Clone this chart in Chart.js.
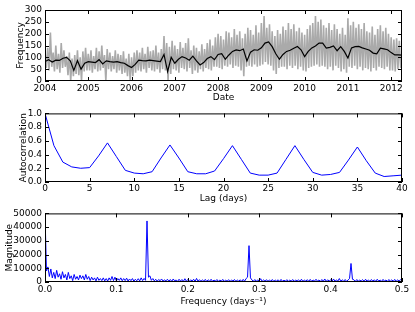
<!DOCTYPE html>
<html>
<head>
<meta charset="utf-8">
<script src="https://cdn.jsdelivr.net/npm/chart.js@4"></script>
<style>
  body { margin: 0; background: #fff; }
  #wrap { position: relative; width: 415px; height: 312px; }
  canvas { position: absolute; left: 0; }
</style>
</head>
<body>
<div id="wrap">
  <canvas id="counts" width="415" height="105" style="top:0"></canvas>
  <canvas id="acf" width="415" height="100" style="top:105px"></canvas>
  <canvas id="fft" width="415" height="107" style="top:205px"></canvas>
</div>
<script>
// daily counts (about every 11 days, one row per quarter)
const rawStart = 2004;
const rawPerYear = 32;
const rawCounts = [
  125, 55, 140, 45, 205, 60, 120, 40,
  150, 50, 115, 35, 160, 55, 130, 60,
  105, 25, 120, 0, 95, 20, 110, 30,
  130, 25, 100, 0, 125, 40, 140, 45,
  115, 45, 130, 35, 105, 50, 140, 40,
  125, 45, 150, 55, 110, 0, 135, 50,
  120, 40, 105, 50, 130, 35, 115, 45,
  110, 30, 125, 35, 95, 20, 115, 0,
  100, 20, 120, 35, 130, 45, 120, 40,
  140, 50, 115, 35, 145, 55, 125, 45,
  130, 40, 150, 50, 120, 35, 135, 50,
  190, 45, 160, 0, 145, 30, 170, 50,
  150, 45, 135, 35, 165, 55, 140, 50,
  160, 40, 180, 55, 130, 30, 150, 45,
  140, 35, 125, 50, 155, 40, 135, 55,
  160, 50, 175, 45, 150, 60, 185, 60,
  200, 55, 190, 50, 175, 65, 210, 60,
  205, 70, 185, 55, 220, 65, 195, 60,
  210, 45, 180, 20, 200, 60, 225, 65,
  215, 60, 195, 70, 235, 60, 205, 65,
  245, 70, 275, 80, 225, 70, 240, 65,
  210, 45, 190, 30, 215, 55, 200, 60,
  230, 60, 215, 50, 245, 65, 220, 55,
  240, 65, 210, 50, 225, 60, 205, 45,
  195, 40, 220, 55, 235, 60, 245, 65,
  275, 70, 250, 60, 260, 65, 235, 60,
  225, 50, 245, 60, 215, 45, 240, 65,
  220, 55, 200, 40, 225, 50, 195, 35,
  265, 60, 235, 55, 250, 65, 225, 50,
  240, 60, 220, 45, 245, 55, 210, 50,
  205, 40, 230, 55, 195, 45, 220, 60,
  235, 55, 210, 50, 225, 60, 200, 45,
  185, 45, 175, 40, 180, 50, 170, 55
];

// smoothed counts, one value per month
const smoothCounts = [
  82, 90, 80, 88, 87, 96, 100, 85, 45, 86, 50, 75,
  82, 80, 78, 90, 72, 85, 82, 80, 82, 78, 75, 65,
  57, 70, 88, 86, 85, 88, 86, 84, 82, 112, 40, 100,
  75, 92, 103, 97, 88, 105, 85, 68, 78, 95, 103, 90,
  112, 115, 92, 110, 125, 131, 128, 135, 85, 122, 132, 130,
  140, 160, 165, 145, 115, 92, 112, 125, 130, 138, 146, 132,
  103, 125, 140, 148, 160, 160, 139, 142, 148, 128, 145, 125,
  97, 140, 145, 146, 140, 135, 130, 118, 115, 139, 136, 132,
  120, 110, 110, 109
];

const lags = [
  0, 1, 2, 3, 4, 5, 6, 7, 8, 9, 10, 11, 12, 13, 14, 15, 16, 17, 18, 19, 20,
  21, 22, 23, 24, 25, 26, 27, 28, 29, 30, 31, 32, 33, 34, 35, 36, 37, 38, 39, 40
];
const autocorr = [
  1.0, 0.53, 0.29, 0.22, 0.20, 0.21, 0.38, 0.57, 0.37, 0.17, 0.13, 0.12, 0.15, 0.35,
  0.54, 0.35, 0.15, 0.12, 0.12, 0.16, 0.34, 0.53, 0.33, 0.13, 0.10, 0.10, 0.13,
  0.33, 0.53, 0.33, 0.14, 0.10, 0.11, 0.14, 0.32, 0.51, 0.31, 0.13, 0.08, 0.09, 0.10
];

// spectrum magnitude, frequency step 1/490 per day
const freqStep = 1 / 490;
const magnitude = [
  50000, 8000, 11000, 4000, 9500, 3000, 7000, 2500, 8500, 3500, 6000, 2000, 7500, 3000,
  5500, 1500, 7000, 2500, 4500, 1000, 5500, 2000, 4000, 1500, 5000, 2500, 4500, 1500,
  5500, 2000, 4000, 1000, 3500, 1500, 3000, 800, 3500, 1200, 2500, 1000, 3000, 800,
  2500, 700, 3000, 1200, 4000, 1000, 3500, 800, 2500, 1200, 3000, 900, 2500, 1000,
  2800, 700, 2200, 1000, 2500, 600, 2000, 900, 2400, 800, 3000, 1000, 2600, 1200,
  44500, 3500, 4500, 1200, 2500, 800, 2000, 600, 1800, 900, 2200, 700, 1500, 800,
  2000, 600, 1800, 500, 2200, 800, 1500, 400, 2000, 700, 1800, 500, 2400, 600,
  1800, 500, 1600, 700, 2000, 400, 2600, 600, 1700, 500, 1500, 700, 1900, 400,
  1600, 600, 2000, 500, 1400, 700, 1800, 400, 1500, 600, 1900, 500, 1300, 600,
  1700, 400, 1500, 700, 1800, 500, 1400, 600, 1600, 400, 1900, 600, 2500, 3500,
  26500, 3000, 1500, 600, 1800, 500, 1600, 700, 2400, 500, 1500, 600, 1700, 400,
  1500, 600, 1800, 500, 1400, 700, 1600, 400, 1900, 500, 1300, 600, 1700, 500,
  1400, 600, 1800, 400, 1500, 700, 1600, 500, 2000, 400, 1500, 600, 1700, 500,
  1900, 500, 1400, 700, 2000, 600, 1500, 400, 1800, 600, 2200, 500, 1600, 700,
  1500, 500, 2200, 600, 1400, 700, 2500, 500, 1600, 600, 1800, 400, 1500, 2500,
  13500, 2000, 1600, 500, 1800, 600, 1400, 700, 1700, 500, 2000, 600, 1500, 400,
  1800, 600, 1600, 500, 2000, 700, 1400, 500, 1900, 600, 1500, 400, 1800, 600,
  1600, 500, 1900, 600, 1500, 700, 1700, 600
];

const font = { family: "DejaVu Sans", size: 9 };

// matplotlib-like frame with inward ticks on all four sides
const frameTicks = {
  id: "frameTicks",
  afterDatasetsDraw(chart) {
    const { ctx, chartArea: a, scales } = chart;
    ctx.save();
    ctx.strokeStyle = "#000";
    ctx.lineWidth = 1;
    ctx.beginPath();
    scales.x.ticks.forEach((t) => {
      const px = Math.round(scales.x.getPixelForValue(t.value)) + 0.5;
      ctx.moveTo(px, a.bottom); ctx.lineTo(px, a.bottom - 4);
      ctx.moveTo(px, a.top); ctx.lineTo(px, a.top + 4);
    });
    scales.y.ticks.forEach((t) => {
      const py = Math.round(scales.y.getPixelForValue(t.value)) + 0.5;
      ctx.moveTo(a.left, py); ctx.lineTo(a.left + 4, py);
      ctx.moveTo(a.right, py); ctx.lineTo(a.right - 4, py);
    });
    ctx.stroke();
    ctx.strokeRect(a.left + 0.5, a.top + 0.5, a.right - a.left - 1, a.bottom - a.top - 1);
    ctx.restore();
  },
};

function makeOptions(o) {
  return {
    responsive: false,
    animation: false,
    events: [],
    layout: { padding: { top: o.top, right: 13, bottom: 0, left: 0 } },
    plugins: { legend: { display: false }, tooltip: { enabled: false } },
    elements: { point: { radius: 0 } },
    scales: {
      x: {
        type: "linear",
        min: o.xmin,
        max: o.xmax,
        grid: { display: false, drawTicks: false },
        border: { display: false },
        ticks: {
          stepSize: o.xstep,
          includeBounds: false,
          autoSkip: false,
          maxRotation: 0,
          padding: o.xpad,
          color: "#000",
          font: font,
          callback: o.xfmt,
        },
        title: { display: true, text: o.xtitle, color: "#000", font: font, padding: { top: 0, bottom: o.xtitlePad } },
        afterFit: (s) => { s.height = o.xh; },
      },
      y: {
        min: o.ymin,
        max: o.ymax,
        grid: { display: false, drawTicks: false },
        border: { display: false },
        ticks: { stepSize: o.ystep, autoSkip: false, padding: 3, color: "#000", font: font, callback: o.yfmt },
        title: { display: true, text: o.ytitle, color: "#000", font: font, padding: { top: o.ytitlePad, bottom: 0 } },
        afterFit: (s) => { s.width = 45; },
      },
    },
  };
}

new Chart(document.getElementById("counts"), {
  type: "line",
  data: {
    datasets: [
      {
        data: smoothCounts.map((v, i) => ({ x: rawStart + i / 12, y: v })),
        borderColor: "#000",
        borderWidth: 1.2,
      },
      {
        data: rawCounts.map((v, i) => ({ x: rawStart + i / rawPerYear, y: v })),
        borderColor: "#aaaaaa",
        borderWidth: 1.6,
        borderJoinStyle: "bevel",
      },
    ],
  },
  options: makeOptions({
    top: 10, xh: 24, xpad: 2, xtitlePad: 2, ytitlePad: 15,
    xmin: 2004, xmax: 2012.25, xstep: 1, xtitle: "Date",
    xfmt: (v) => String(v),
    ymin: 0, ymax: 300, ystep: 50, ytitle: "Frequency",
    yfmt: (v) => String(v),
  }),
  plugins: [frameTicks],
});

new Chart(document.getElementById("acf"), {
  type: "line",
  data: {
    datasets: [
      {
        data: autocorr.map((v, i) => ({ x: lags[i], y: v })),
        borderColor: "#0000ff",
        borderWidth: 1,
      },
    ],
  },
  options: makeOptions({
    top: 6, xh: 23, xpad: 1, xtitlePad: 1, ytitlePad: 18,
    xmin: 0, xmax: 40, xstep: 5, xtitle: "Lag (days)",
    xfmt: (v) => String(v),
    ymin: 0, ymax: 1, ystep: 0.2, ytitle: "Autocorrelation",
    yfmt: (v) => v.toFixed(1),
  }),
  plugins: [frameTicks],
});

new Chart(document.getElementById("fft"), {
  type: "line",
  data: {
    datasets: [
      {
        data: magnitude.map((v, i) => ({ x: i * freqStep, y: v })),
        borderColor: "#0000ff",
        borderWidth: 1,
      },
    ],
  },
  options: makeOptions({
    top: 7, xh: 30, xpad: 2, xtitlePad: 5, ytitlePad: 4,
    xmin: 0, xmax: 0.5, xstep: 0.1, xtitle: "Frequency (days\u207B\u00B9)",
    xfmt: (v) => v.toFixed(1),
    ymin: 0, ymax: 50000, ystep: 10000, ytitle: "Magnitude",
    yfmt: (v) => String(v),
  }),
  plugins: [frameTicks],
});
</script>
</body>
</html>
